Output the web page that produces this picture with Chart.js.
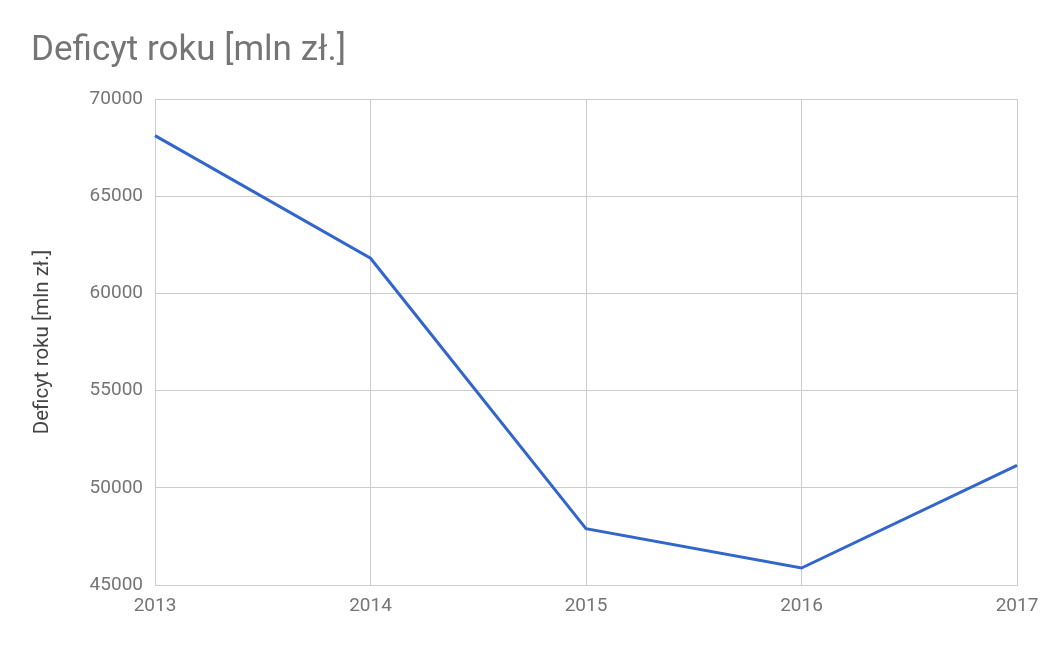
<!DOCTYPE html>
<html>
<head>
<meta charset="utf-8">
<script src="https://cdn.jsdelivr.net/npm/chart.js@4"></script>
<style>
  html, body { margin: 0; padding: 0; background: #fff; }
  #wrap { width: 1050px; height: 649px; }
</style>
</head>
<body>
<div id="wrap"><canvas id="chart" width="1050" height="649"></canvas></div>
<script>
const years = ["2013", "2014", "2015", "2016", "2017"];
const deficit = [68115, 61810, 47895, 45874, 51150];
const yTicks = [45000, 50000, 55000, 60000, 65000, 70000];
const titleText = "Deficyt roku [mln zł.]";

const gridColor = "#cccccc";
const textColor = "#757575";

new Chart("chart", {
    type: "line",
    data: {
        labels: years,
        datasets: [{
            label: titleText,
            data: deficit,
            borderColor: "#3366cc",
            backgroundColor: "#3366cc",
            borderWidth: 3,
            pointRadius: 0,
            tension: 0,
            fill: false
        }]
    },
    options: {
        responsive: false,
        animation: false,
        layout: { padding: { left: 31, right: 33, top: 0, bottom: 0 } },
        plugins: {
            legend: { display: false },
            tooltip: { enabled: false },
            title: {
                display: true,
                text: titleText,
                align: "start",
                color: textColor,
                font: { family: "Roboto", size: 35, weight: "normal" },
                padding: { top: 30, bottom: 27 }
            }
        },
        scales: {
            x: {
                offset: false,
                grid: { color: gridColor, drawTicks: false, lineWidth: 1 },
                border: { color: gridColor },
                ticks: {
                    color: textColor,
                    padding: 10,
                    maxRotation: 0,
                    font: { family: "Roboto", size: 19 }
                },
                afterFit: (s) => { s.height = 64; }
            },
            y: {
                min: yTicks[0],
                max: yTicks[yTicks.length - 1],
                afterBuildTicks: (s) => { s.ticks = yTicks.map(v => ({ value: v })); },
                grid: { color: gridColor, drawTicks: false, lineWidth: 1 },
                border: { color: gridColor },
                ticks: {
                    color: textColor,
                    padding: 12,
                    font: { family: "Roboto", size: 19 },
                    callback: (v) => String(v)
                },
                title: {
                    display: true,
                    text: titleText,
                    color: "#444444",
                    padding: 0,
                    font: { family: "Roboto", size: 20.5 }
                },
                afterFit: (s) => { s.width = 124; }
            }
        }
    }
});
</script>
</body>
</html>
